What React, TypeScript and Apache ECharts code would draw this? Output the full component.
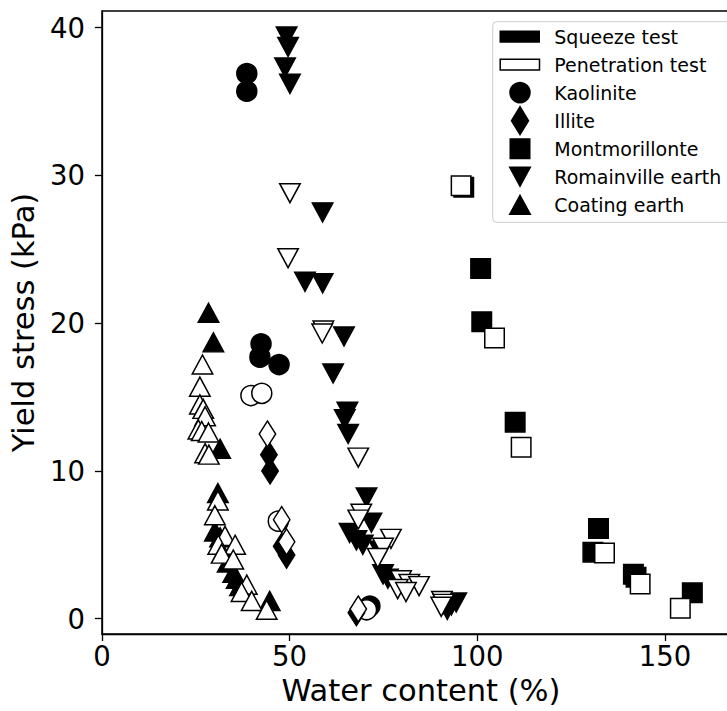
import React, { useEffect, useRef } from "react";
import * as echarts from "echarts";

// Water content (%), Yield stress (kPa)
const kaoliniteSqueeze = [[38.6, 36.9], [38.6, 35.7], [42.4, 18.6], [42.1, 17.7], [47.2, 17.2], [71.4, 0.85]];
const kaolinitePenetration = [[39.7, 15.1], [42.6, 15.25], [47.0, 6.6], [70.5, 0.6]];

const illiteSqueeze = [[44.5, 11.1], [44.8, 10.0], [47.9, 4.9], [49.2, 4.3], [67.8, 0.4]];
const illitePenetration = [[44.1, 12.5], [47.9, 6.7], [49.2, 5.2], [68.3, 0.65]];

const montmorilloniteSqueeze = [[96.4, 29.2], [100.9, 23.7], [101.2, 20.1], [110.1, 13.3], [132.3, 6.1], [130.8, 4.5], [141.6, 3.0], [142.3, 2.8], [157.3, 1.75]];
const montmorillonitePenetration = [[95.7, 29.3], [104.6, 19.0], [111.7, 11.6], [133.9, 4.45], [143.4, 2.35], [154.1, 0.7]];

const romainvilleSqueeze = [[49.2, 39.4], [49.6, 38.7], [48.8, 37.3], [50.1, 36.2], [58.8, 27.5], [54.1, 22.8], [58.8, 22.7], [64.5, 19.1], [61.6, 16.6], [65.4, 14.0], [64.7, 13.5], [65.6, 12.5], [70.5, 8.2], [71.8, 6.5], [66.0, 5.8], [67.8, 5.3], [69.5, 5.0], [74.0, 4.6], [74.9, 3.0], [76.2, 2.7], [92.0, 0.6], [93.1, 0.9], [94.4, 1.1]];
const romainvillePenetration = [[50.1, 28.8], [49.6, 24.4], [59.0, 19.5], [58.7, 19.3], [68.3, 10.9], [69.1, 7.1], [68.3, 6.7], [77.0, 5.4], [74.9, 4.8], [73.5, 4.1], [79.7, 2.6], [81.9, 2.35], [84.5, 2.2], [78.8, 2.0], [81.0, 1.8], [90.6, 1.2], [91.0, 1.0], [90.4, 0.8]];

const coatingSqueeze = [[28.4, 20.7], [29.7, 18.7], [31.5, 11.5], [30.9, 8.5], [30.1, 5.9], [31.5, 5.5], [33.5, 3.8], [35.0, 3.1], [35.9, 2.7], [36.8, 2.2], [44.7, 1.2]];
const coatingPenetration = [[26.8, 17.2], [26.1, 15.7], [26.1, 14.5], [27.0, 14.2], [27.5, 13.7], [25.7, 12.8], [26.6, 12.7], [28.4, 12.6], [27.5, 11.2], [28.5, 11.1], [30.9, 8.0], [30.1, 7.0], [32.8, 5.6], [31.0, 5.0], [35.5, 5.0], [31.9, 4.4], [35.0, 4.0], [38.6, 2.3], [37.2, 1.8], [39.9, 1.2], [43.9, 0.6]];

const xTicks = [0, 50, 100, 150];
const yTicks = [0, 10, 20, 30, 40];
const testLabels = ["Squeeze test", "Penetration test"];
const materialLabels = ["Kaolinite", "Illite", "Montmorillonte", "Romainville earth", "Coating earth"];

const FONT = "DejaVu Sans";

function scatter(name: string, data: number[][], symbol: string, size: any, filled: boolean, rotate = 0) {
  return {
    type: "scatter",
    name,
    data,
    symbol,
    symbolSize: size,
    symbolRotate: rotate,
    silent: true,
    itemStyle: {
      color: filled ? "#000" : "#fff",
      borderColor: "#000",
      borderWidth: 1.5,
      opacity: 1,
    },
    emphasis: { disabled: true },
  };
}

export default function App() {
  const ref = useRef<HTMLDivElement>(null);
  useEffect(() => {
    const chart = echarts.init(ref.current!, null, { renderer: "svg" });
    const circle = 20;
    const square = 19.5;
    const tri = [20.5, 19];
    const dia = [16.5, 26];
    const legendTop = 36.5;
    const legendStep = 28.05;
    const lx = 520;
    const ly = (i: number) => legendTop + i * legendStep;
    const allLabels = [...testLabels, ...materialLabels];

    const option: any = {
      animation: false,
      backgroundColor: "#fff",
      textStyle: { fontFamily: FONT },
      grid: {
        left: 100,
        top: 11,
        right: 20,
        bottom: 76,
        show: true,
        borderColor: "#000",
        borderWidth: 1.3,
        backgroundColor: "transparent",
      },
      xAxis: {
        type: "value",
        min: 0,
        max: 170,
        axisLine: { show: true, onZero: false, lineStyle: { color: "#000", width: 1.3 } },
        axisTick: { show: true, inside: false, length: 7, lineStyle: { color: "#000", width: 1.3 }, customValues: xTicks },
        axisLabel: { customValues: xTicks, fontSize: 27.5, color: "#000", fontFamily: FONT, margin: 8 },
        splitLine: { show: false },
        name: "Water content (%)",
        nameLocation: "middle",
        nameGap: 41,
        nameTextStyle: { fontSize: 30.5, color: "#000", fontFamily: FONT },
      },
      yAxis: {
        type: "value",
        min: -1.04,
        max: 41.13,
        axisLine: { show: true, onZero: false, lineStyle: { color: "#000", width: 1.3 } },
        axisTick: { show: true, inside: false, length: 7, lineStyle: { color: "#000", width: 1.3 }, customValues: yTicks },
        axisLabel: { customValues: yTicks, fontSize: 27.5, color: "#000", fontFamily: FONT, margin: 17 },
        splitLine: { show: false },
        name: "Yield stress (kPa)",
        nameLocation: "middle",
        nameGap: 56,
        nameTextStyle: { fontSize: 30.5, color: "#000", fontFamily: FONT },
      },
      series: [
        scatter("Kaolinite squeeze", kaoliniteSqueeze, "circle", circle, true),
        scatter("Kaolinite penetration", kaolinitePenetration, "circle", circle, false),
        scatter("Illite squeeze", illiteSqueeze, "diamond", dia, true),
        scatter("Illite penetration", illitePenetration, "diamond", dia, false),
        scatter("Montmorillonte squeeze", montmorilloniteSqueeze, "rect", square, true),
        scatter("Montmorillonte penetration", montmorillonitePenetration, "rect", square, false),
        scatter("Romainville earth squeeze", romainvilleSqueeze, "triangle", tri, true, 180),
        scatter("Romainville earth penetration", romainvillePenetration, "triangle", tri, false, 180),
        scatter("Coating earth squeeze", coatingSqueeze, "triangle", tri, true),
        scatter("Coating earth penetration", coatingPenetration, "triangle", tri, false),
      ],
      graphic: [
        {
          type: "rect",
          shape: { x: 492.7, y: 21.7, width: 262, height: 200.6, r: 4 },
          style: { fill: "rgba(255,255,255,0.8)", stroke: "#cccccc", lineWidth: 1 },
          z: 100,
        },
        {
          type: "rect",
          shape: { x: 499.5, y: ly(0) - 6, width: 40.5, height: 12.3 },
          style: { fill: "#000", stroke: "#000", lineWidth: 0 },
          z: 101,
        },
        {
          type: "rect",
          shape: { x: 500.2, y: ly(1) - 5.3, width: 39.3, height: 10.8 },
          style: { fill: "#fff", stroke: "#000", lineWidth: 1.5 },
          z: 101,
        },
        {
          type: "circle",
          shape: { cx: lx, cy: ly(2), r: circle / 2 },
          style: { fill: "#000", stroke: "#000", lineWidth: 1.5 },
          z: 101,
        },
        {
          type: "polygon",
          shape: { points: [[lx, ly(3) - 14], [lx + 8.5, ly(3)], [lx, ly(3) + 14], [lx - 8.5, ly(3)]] },
          style: { fill: "#000", stroke: "#000", lineWidth: 1.5 },
          z: 101,
        },
        {
          type: "rect",
          shape: { x: lx - square / 2, y: ly(4) - square / 2, width: square, height: square },
          style: { fill: "#000", stroke: "#000", lineWidth: 1.5 },
          z: 101,
        },
        {
          type: "polygon",
          shape: { points: [[lx - 10.25, ly(5) - 9.5], [lx + 10.25, ly(5) - 9.5], [lx, ly(5) + 9.5]] },
          style: { fill: "#000", stroke: "#000", lineWidth: 1.5 },
          z: 101,
        },
        {
          type: "polygon",
          shape: { points: [[lx, ly(6) - 9.5], [lx + 10.25, ly(6) + 9.5], [lx - 10.25, ly(6) + 9.5]] },
          style: { fill: "#000", stroke: "#000", lineWidth: 1.5 },
          z: 101,
        },
        ...allLabels.map((t, i) => ({
          type: "text",
          x: 554.3,
          y: ly(i),
          z: 101,
          style: {
            text: t,
            fill: "#000",
            fontSize: 19,
            fontFamily: FONT,
            textAlign: "left",
            textVerticalAlign: "middle",
          },
        })),
      ],
    };
    chart.setOption(option);
    return () => chart.dispose();
  }, []);

  return (
    <div
      style={{
        position: "fixed",
        left: 0,
        top: 0,
        width: 727,
        height: 711,
        overflow: "hidden",
        background: "#fff",
      }}
    >
      <div ref={ref} style={{ width: 760, height: 711 }} />
    </div>
  );
}
